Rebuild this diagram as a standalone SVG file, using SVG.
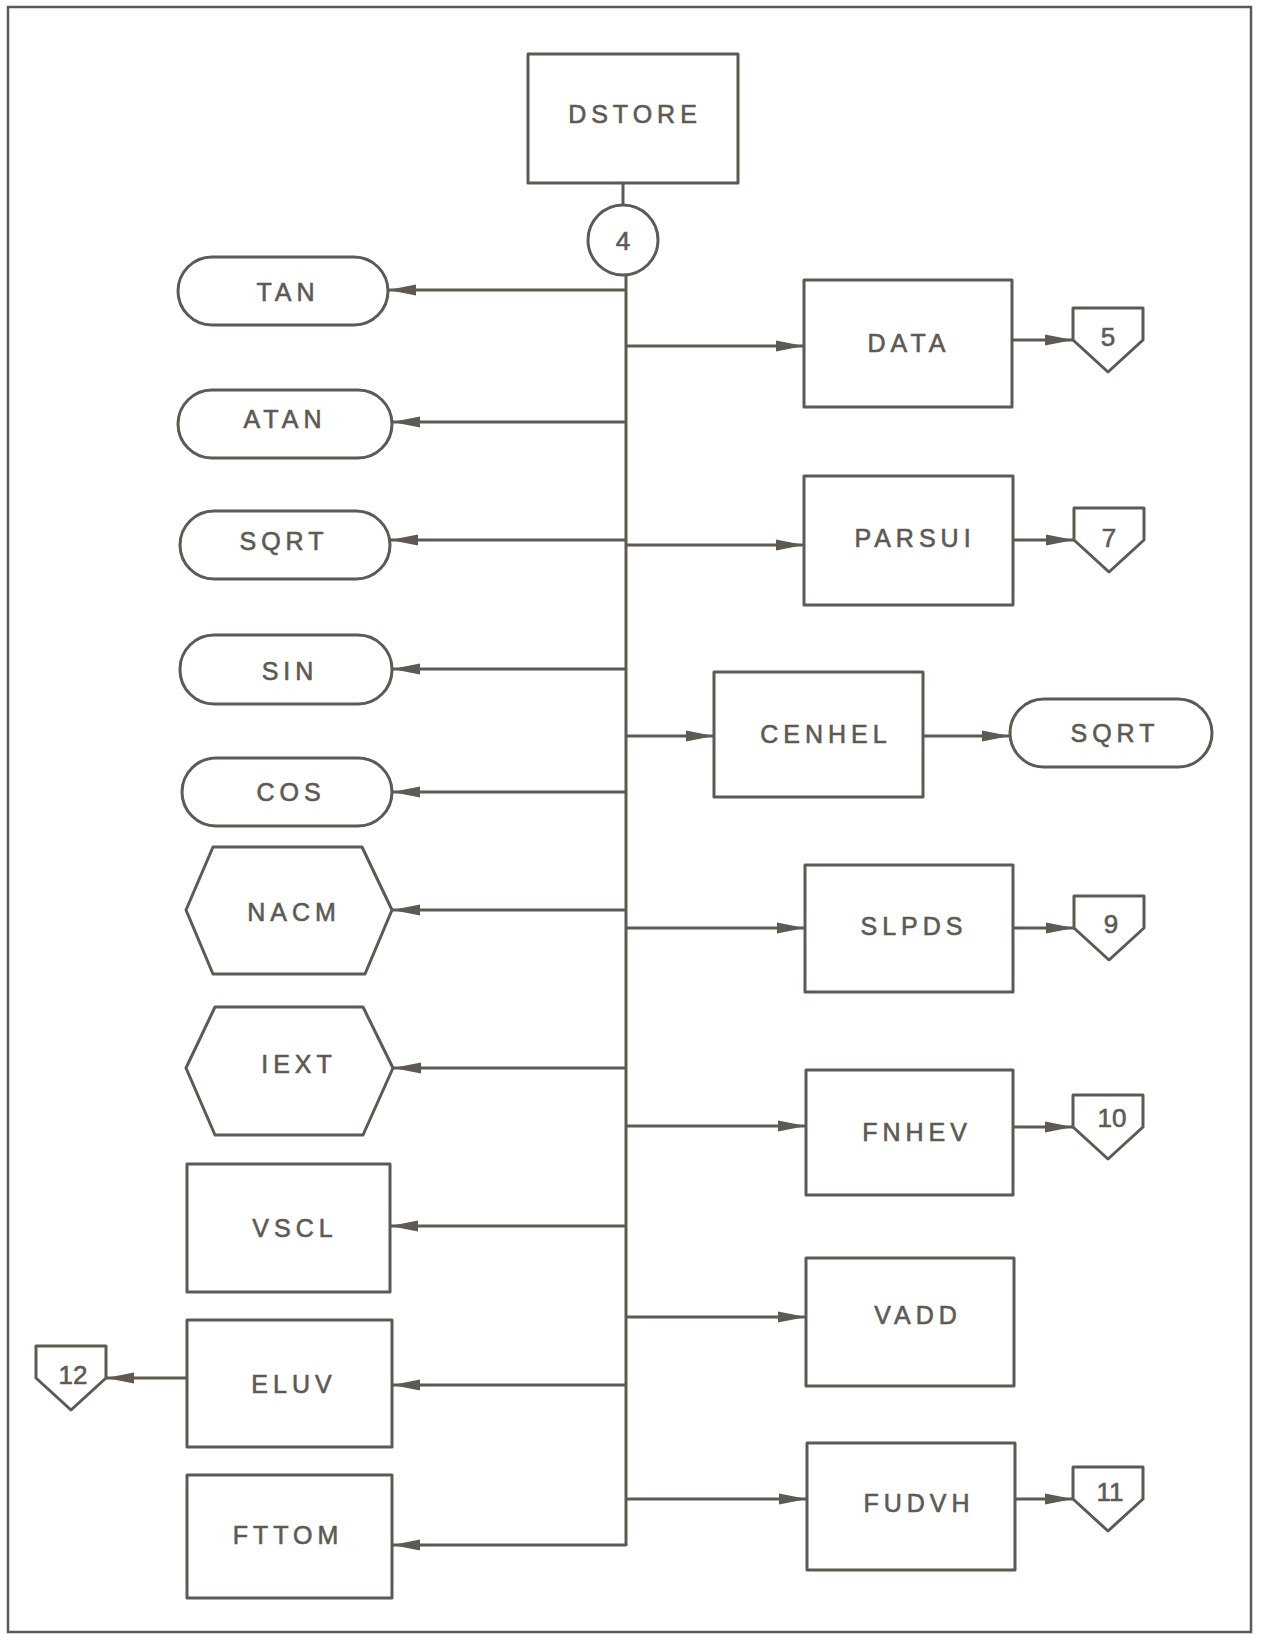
<svg xmlns="http://www.w3.org/2000/svg" width="1264" height="1635" viewBox="0 0 1264 1635">
<style>
.s{fill:#fff;stroke:#5e5953;stroke-width:3;stroke-linejoin:round}
.c{fill:none;stroke:#5e5953;stroke-width:3}
.t{font-family:"Liberation Sans",Arial,sans-serif;font-size:25px;fill:#5e5953;stroke:#5e5953;stroke-width:0.6;text-anchor:middle;letter-spacing:5px}
.n{font-family:"Liberation Sans",Arial,sans-serif;font-size:26px;fill:#5e5953;stroke:#5e5953;stroke-width:0.6;text-anchor:middle}
</style>
<defs>
<marker id="ah" viewBox="0 0 28 14" refX="28" refY="7" markerWidth="28" markerHeight="14" markerUnits="userSpaceOnUse" orient="auto">
<path d="M0,1.5 L28,7 L0,12.5 z" fill="#5e5953"/>
</marker>
<path id="pent" d="M0,0 L70,0 L70,32 L35,64 L0,32 z"/>
</defs>
<rect x="0" y="0" width="1264" height="1635" fill="#fff"/>
<rect x="8" y="7" width="1243" height="1625" fill="none" stroke="#5e5953" stroke-width="2.5"/>

<g id="connectors">
<line class="c" x1="623" y1="183" x2="623" y2="205"/>
<line class="c" x1="626" y1="275" x2="626" y2="1546"/>
<line class="c" x1="626" y1="290" x2="388" y2="290" marker-end="url(#ah)"/>
<line class="c" x1="626" y1="422" x2="392" y2="422" marker-end="url(#ah)"/>
<line class="c" x1="626" y1="540" x2="390" y2="540" marker-end="url(#ah)"/>
<line class="c" x1="626" y1="669" x2="392" y2="669" marker-end="url(#ah)"/>
<line class="c" x1="626" y1="792" x2="392" y2="792" marker-end="url(#ah)"/>
<line class="c" x1="626" y1="910" x2="392" y2="910" marker-end="url(#ah)"/>
<line class="c" x1="626" y1="1068" x2="393" y2="1068" marker-end="url(#ah)"/>
<line class="c" x1="626" y1="1226" x2="390" y2="1226" marker-end="url(#ah)"/>
<line class="c" x1="626" y1="1385" x2="392" y2="1385" marker-end="url(#ah)"/>
<line class="c" x1="626" y1="1545" x2="392" y2="1545" marker-end="url(#ah)"/>
<line class="c" x1="187" y1="1378" x2="106" y2="1378" marker-end="url(#ah)"/>
<line class="c" x1="626" y1="346" x2="804" y2="346" marker-end="url(#ah)"/>
<line class="c" x1="626" y1="545" x2="804" y2="545" marker-end="url(#ah)"/>
<line class="c" x1="626" y1="736" x2="714" y2="736" marker-end="url(#ah)"/>
<line class="c" x1="626" y1="928" x2="805" y2="928" marker-end="url(#ah)"/>
<line class="c" x1="626" y1="1126" x2="806" y2="1126" marker-end="url(#ah)"/>
<line class="c" x1="626" y1="1317" x2="806" y2="1317" marker-end="url(#ah)"/>
<line class="c" x1="626" y1="1499" x2="807" y2="1499" marker-end="url(#ah)"/>
<line class="c" x1="1012" y1="340" x2="1073" y2="340" marker-end="url(#ah)"/>
<line class="c" x1="1013" y1="540" x2="1074" y2="540" marker-end="url(#ah)"/>
<line class="c" x1="923" y1="736" x2="1010" y2="736" marker-end="url(#ah)"/>
<line class="c" x1="1013" y1="928" x2="1074" y2="928" marker-end="url(#ah)"/>
<line class="c" x1="1013" y1="1127" x2="1073" y2="1127" marker-end="url(#ah)"/>
<line class="c" x1="1015" y1="1499" x2="1073" y2="1499" marker-end="url(#ah)"/>
</g>

<g id="DSTORE"><rect class="s" x="528" y="54" width="210" height="129"/><text class="t" x="635" y="123">DSTORE</text></g>
<g id="conn4"><circle class="s" cx="623" cy="240" r="35"/><text class="n" x="623" y="250">4</text></g>

<g id="TAN"><rect class="s" x="178" y="257" width="210" height="68" rx="34"/><text class="t" x="288" y="301">TAN</text></g>
<g id="ATAN"><rect class="s" x="178" y="390" width="214" height="68" rx="34"/><text class="t" x="285" y="428">ATAN</text></g>
<g id="SQRT1"><rect class="s" x="180" y="511" width="210" height="68" rx="34"/><text class="t" x="284" y="550">SQRT</text></g>
<g id="SIN"><rect class="s" x="180" y="635" width="212" height="69" rx="34"/><text class="t" x="290" y="680">SIN</text></g>
<g id="COS"><rect class="s" x="182" y="758" width="210" height="68" rx="34"/><text class="t" x="291" y="801">COS</text></g>
<g id="NACM"><polygon class="s" points="186,910 213,847 362,847 392,910 365,974 213,974"/><text class="t" x="294" y="921">NACM</text></g>
<g id="IEXT"><polygon class="s" points="186,1068 215,1007 363,1007 393,1068 363,1135 215,1135"/><text class="t" x="299" y="1073">IEXT</text></g>
<g id="VSCL"><rect class="s" x="187" y="1164" width="203" height="128"/><text class="t" x="295" y="1237">VSCL</text></g>
<g id="ELUV"><rect class="s" x="187" y="1320" width="205" height="127"/><text class="t" x="294" y="1393">ELUV</text></g>
<g id="FTTOM"><rect class="s" x="187" y="1475" width="205" height="123"/><text class="t" x="288" y="1544">FTTOM</text></g>
<g id="conn12"><use href="#pent" class="s" x="36" y="1346"/><text class="n" x="73" y="1384">12</text></g>

<g id="DATA"><rect class="s" x="804" y="280" width="208" height="127"/><text class="t" x="909" y="352">DATA</text></g>
<g id="conn5"><use href="#pent" class="s" x="1073" y="308"/><text class="n" x="1108" y="346">5</text></g>
<g id="PARSUI"><rect class="s" x="804" y="476" width="209" height="129"/><text class="t" x="915" y="547">PARSUI</text></g>
<g id="conn7"><use href="#pent" class="s" x="1074" y="508"/><text class="n" x="1109" y="547">7</text></g>
<g id="CENHEL"><rect class="s" x="714" y="672" width="209" height="125"/><text class="t" x="826" y="743">CENHEL</text></g>
<g id="SQRT2"><rect class="s" x="1010" y="699" width="202" height="68" rx="34"/><text class="t" x="1115" y="742">SQRT</text></g>
<g id="SLPDS"><rect class="s" x="805" y="865" width="208" height="127"/><text class="t" x="914" y="935">SLPDS</text></g>
<g id="conn9"><use href="#pent" class="s" x="1074" y="896"/><text class="n" x="1111" y="933">9</text></g>
<g id="FNHEV"><rect class="s" x="806" y="1070" width="207" height="125"/><text class="t" x="917" y="1141">FNHEV</text></g>
<g id="conn10"><use href="#pent" class="s" x="1073" y="1095"/><text class="n" x="1112" y="1127">10</text></g>
<g id="VADD"><rect class="s" x="806" y="1258" width="208" height="128"/><text class="t" x="918" y="1324">VADD</text></g>
<g id="FUDVH"><rect class="s" x="807" y="1443" width="208" height="127"/><text class="t" x="919" y="1512">FUDVH</text></g>
<g id="conn11"><use href="#pent" class="s" x="1073" y="1467"/><text class="n" x="1110" y="1501">11</text></g>
</svg>
